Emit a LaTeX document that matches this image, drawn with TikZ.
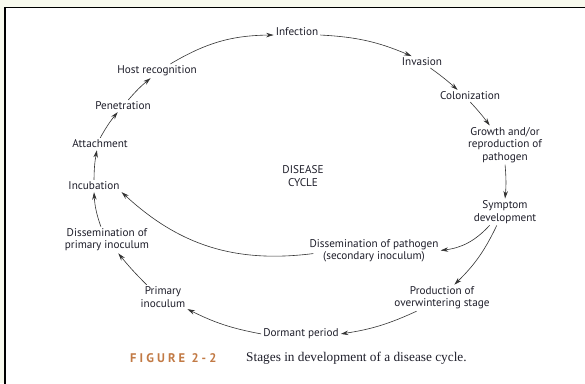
\documentclass[tikz,border=0pt]{standalone}
\usepackage{fontspec}
\setmainfont{PT Sans}
\newfontfamily\capserif{Liberation Serif}
\newfontfamily\figsans[LetterSpace=25]{PT Sans Bold}
\usetikzlibrary{arrows.meta}
\definecolor{bgpale}{HTML}{F8FAEE}
\definecolor{figorange}{HTML}{C27A45}
\definecolor{linegray}{HTML}{333333}
\definecolor{txt}{HTML}{1E1E2A}
\begin{document}
\begin{tikzpicture}[x=1pt,y=-1pt,
 lbl/.style={font=\fontsize{11.2}{12.3}\selectfont, text=txt, align=center, inner sep=1.5pt},
 arr/.style={draw=linegray, line width=0.6pt, -{Stealth[length=7.5pt,width=4.5pt]}, shorten >=0.5pt, shorten <=0.5pt}]
\useasboundingbox (0,0) rectangle (585,383);
\fill[bgpale] (0,0) rectangle (585,383);
\fill[white] (5,7.5) rectangle (600,400);
\draw[line width=1.8pt] (600,7.5) -- (5,7.5) -- (5,400);

\node[lbl] (inf) at (297,32) {Infection};
\node[lbl] (inv) at (422,62) {Invasion};
\node[lbl] (col) at (470,96) {Colonization};
\node[lbl] (gro) at (505,145) {Growth and/or\\reproduction of\\pathogen};
\node[lbl] (sym) at (505,212) {Symptom\\development};
\node[lbl] (dsp) at (374,250.5) {Dissemination of pathogen\\(secondary inoculum)};
\node[lbl] (pro) at (442,298) {Production of\\overwintering stage};
\node[lbl] (dor) at (301,334) {Dormant period};
\node[lbl] (pri) at (163,297) {Primary\\inoculum};
\node[lbl] (dpi) at (107,240) {Dissemination of\\primary inoculum};
\node[lbl] (inc) at (94,186) {Incubation};
\node[lbl] (att) at (100,144) {Attachment};
\node[lbl] (pen) at (123,106) {Penetration};
\node[lbl] (hos) at (157,71) {Host recognition};
\node[lbl] (dc) at (303,176) {DISEASE\\CYCLE};

\draw[arr] ([xshift=13pt]hos.north) to[bend left=15] ([yshift=-3pt]inf.west);
\draw[arr] ([yshift=-3pt]inf.east) to[bend left=10] ([xshift=-10pt]inv.north);
\draw[arr] ([xshift=8pt]inv.south) to[bend left=3] ([xshift=-12pt]col.north);
\draw[arr] (col.south) to[bend left=3] ([xshift=-15pt]gro.north);
\draw[arr] (gro.south) to[bend left=5] (sym.north);
\draw[arr] ([xshift=-15pt]sym.south) to[bend left=20] (dsp.east);
\draw[arr] ([xshift=-8pt]sym.south) to[bend left=10] ([xshift=12pt]pro.north);
\draw[arr] ([xshift=-25pt]pro.south) to[bend left=8] (dor.east);
\draw[arr] (dor.west) to[bend left=8] (pri.south east);
\draw[arr] ([xshift=-16pt]pri.north) to[bend left=3] ([xshift=11pt]dpi.south);
\draw[arr] ([xshift=-6pt]dpi.north) to[bend left=8] (inc.south);
\draw[arr] (inc.north) to[bend left=5] ([xshift=-3pt]att.south);
\draw[arr] (att.north) to[bend left=5] ([xshift=-5pt]pen.south);
\draw[arr] ([xshift=5pt]pen.north) to[bend left=5] ([xshift=-6pt]hos.south);
\draw[arr] ([xshift=6pt,yshift=-3pt]dsp.west) to[bend left=25] (inc.south east);

\node[anchor=west, inner sep=0pt, text=figorange, font=\figsans\fontsize{12.5}{14}\selectfont] (fig) at (130,358) {FIGURE 2-2};
\node[anchor=west, inner sep=0pt, text=txt, font=\capserif\fontsize{13.3}{15}\selectfont] (cap) at (246,358) {Stages in development of a disease cycle.};
\end{tikzpicture}
\end{document}
